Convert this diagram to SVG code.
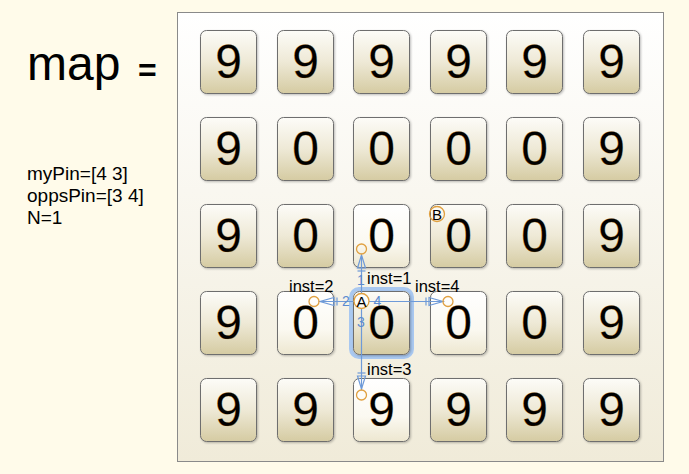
<svg xmlns="http://www.w3.org/2000/svg" width="689" height="474" viewBox="0 0 689 474">
<defs>
<linearGradient id="panelG" x1="0" y1="0" x2="0" y2="1">
<stop offset="0" stop-color="#FFFFFF"/><stop offset="1" stop-color="#F0EBD9"/>
</linearGradient>
<linearGradient id="tileG" x1="0" y1="0" x2="0" y2="1">
<stop offset="0" stop-color="#FDFCF8"/><stop offset="0.5" stop-color="#EEE9D6"/><stop offset="1" stop-color="#D5CBA2"/>
</linearGradient>
<linearGradient id="tileW" x1="0" y1="0" x2="0" y2="1">
<stop offset="0" stop-color="#FFFFFF"/><stop offset="0.6" stop-color="#FBF9F1"/><stop offset="1" stop-color="#EDE7D0"/>
</linearGradient>
<filter id="sh" x="-10%" y="-10%" width="130%" height="130%">
<feDropShadow dx="1" dy="1" stdDeviation="1" flood-color="#000" flood-opacity="0.25"/>
</filter>
</defs>
<style>
.t{fill:url(#tileG);stroke:#6E6E6E;stroke-width:1;filter:url(#sh)}
.w{fill:url(#tileW)}
.d{font-family:"Liberation Sans",Arial,sans-serif;font-size:48px;fill:#000;text-anchor:middle;stroke:#B36A00;stroke-width:0.5;stroke-opacity:0.5}
.lbl{font-family:"Liberation Sans",Arial,sans-serif;font-size:19px;fill:#000}
.il{font-family:"Liberation Sans",Arial,sans-serif;font-size:16.5px;fill:#000}
.num{font-family:"Liberation Sans",Arial,sans-serif;font-size:14px;fill:#5B8BD0;text-anchor:middle}
.ln{stroke:#6E9AD8;stroke-width:1.2;fill:none}
.ah{stroke:#6E9AD8;stroke-width:1.2;fill:none}
.pin{fill:none;stroke:#E0A040;stroke-width:1.3}
</style>
<rect x="0" y="0" width="689" height="474" fill="#FFFBEA"/>
<g id="labels">
<text x="27" y="80" font-family="Liberation Sans,Arial,sans-serif" font-size="48" fill="#000">map</text>
<text x="138" y="81" font-family="Liberation Sans,Arial,sans-serif" font-size="32" font-weight="bold" fill="#000">=</text>
<text x="27" y="179.5" class="lbl">myPin=[4 3]</text>
<text x="27" y="201.5" class="lbl">oppsPin=[3 4]</text>
<text x="27" y="223.5" class="lbl">N=1</text>
</g>
<g id="panel">
<rect x="177.5" y="12.5" width="486" height="449" fill="url(#panelG)" stroke="#8A8A8A" stroke-width="1"/>
</g>
<g id="tiles">
<g id="r1c1"><rect class="t" x="200.5" y="30.5" width="56" height="63" rx="6"/><text class="d" x="228.5" y="78">9</text></g>
<g id="r1c2"><rect class="t" x="277.5" y="30.5" width="56" height="63" rx="6"/><text class="d" x="305.5" y="78">9</text></g>
<g id="r1c3"><rect class="t" x="353.5" y="30.5" width="56" height="63" rx="6"/><text class="d" x="381.5" y="78">9</text></g>
<g id="r1c4"><rect class="t" x="430.5" y="30.5" width="56" height="63" rx="6"/><text class="d" x="458.5" y="78">9</text></g>
<g id="r1c5"><rect class="t" x="506.5" y="30.5" width="56" height="63" rx="6"/><text class="d" x="534.5" y="78">9</text></g>
<g id="r1c6"><rect class="t" x="583.5" y="30.5" width="56" height="63" rx="6"/><text class="d" x="611.5" y="78">9</text></g>

<g id="r2c1"><rect class="t" x="200.5" y="117.5" width="56" height="63" rx="6"/><text class="d" x="228.5" y="165">9</text></g>
<g id="r2c2"><rect class="t" x="277.5" y="117.5" width="56" height="63" rx="6"/><text class="d" x="305.5" y="165">0</text></g>
<g id="r2c3"><rect class="t" x="353.5" y="117.5" width="56" height="63" rx="6"/><text class="d" x="381.5" y="165">0</text></g>
<g id="r2c4"><rect class="t" x="430.5" y="117.5" width="56" height="63" rx="6"/><text class="d" x="458.5" y="165">0</text></g>
<g id="r2c5"><rect class="t" x="506.5" y="117.5" width="56" height="63" rx="6"/><text class="d" x="534.5" y="165">0</text></g>
<g id="r2c6"><rect class="t" x="583.5" y="117.5" width="56" height="63" rx="6"/><text class="d" x="611.5" y="165">9</text></g>

<g id="r3c1"><rect class="t" x="200.5" y="204.5" width="56" height="63" rx="6"/><text class="d" x="228.5" y="252">9</text></g>
<g id="r3c2"><rect class="t" x="277.5" y="204.5" width="56" height="63" rx="6"/><text class="d" x="305.5" y="252">0</text></g>
<g id="r3c3"><rect class="t w" x="353.5" y="204.5" width="56" height="63" rx="6"/><text class="d" x="381.5" y="252">0</text></g>
<g id="r3c4"><rect class="t" x="430.5" y="204.5" width="56" height="63" rx="6"/><text class="d" x="458.5" y="252">0</text></g>
<g id="r3c5"><rect class="t" x="506.5" y="204.5" width="56" height="63" rx="6"/><text class="d" x="534.5" y="252">0</text></g>
<g id="r3c6"><rect class="t" x="583.5" y="204.5" width="56" height="63" rx="6"/><text class="d" x="611.5" y="252">9</text></g>

<g id="r4c1"><rect class="t" x="200.5" y="291.5" width="56" height="63" rx="6"/><text class="d" x="228.5" y="339">9</text></g>
<g id="r4c2"><rect class="t w" x="277.5" y="291.5" width="56" height="63" rx="6"/><text class="d" x="305.5" y="339">0</text></g>
<g id="r4c3"><rect x="351" y="289" width="61" height="68" rx="8" fill="none" stroke="#A9C8F0" stroke-width="4"/><rect class="t" x="353.5" y="291.5" width="56" height="63" rx="6"/><text class="d" x="381.5" y="339">0</text></g>
<g id="r4c4"><rect class="t w" x="430.5" y="291.5" width="56" height="63" rx="6"/><text class="d" x="458.5" y="339">0</text></g>
<g id="r4c5"><rect class="t" x="506.5" y="291.5" width="56" height="63" rx="6"/><text class="d" x="534.5" y="339">0</text></g>
<g id="r4c6"><rect class="t" x="583.5" y="291.5" width="56" height="63" rx="6"/><text class="d" x="611.5" y="339">9</text></g>

<g id="r5c1"><rect class="t" x="200.5" y="378.5" width="56" height="63" rx="6"/><text class="d" x="228.5" y="426">9</text></g>
<g id="r5c2"><rect class="t" x="277.5" y="378.5" width="56" height="63" rx="6"/><text class="d" x="305.5" y="426">9</text></g>
<g id="r5c3"><rect class="t w" x="353.5" y="378.5" width="56" height="63" rx="6"/><text class="d" x="381.5" y="426">9</text></g>
<g id="r5c4"><rect class="t" x="430.5" y="378.5" width="56" height="63" rx="6"/><text class="d" x="458.5" y="426">9</text></g>
<g id="r5c5"><rect class="t" x="506.5" y="378.5" width="56" height="63" rx="6"/><text class="d" x="534.5" y="426">9</text></g>
<g id="r5c6"><rect class="t" x="583.5" y="378.5" width="56" height="63" rx="6"/><text class="d" x="611.5" y="426">9</text></g>
</g>
<g id="connectors">
<line class="ln" x1="361.5" y1="293" x2="361.5" y2="256"/>
<polygon class="ah" points="357.5,268 365.5,268 361.5,255"/>
<line class="ah" x1="357.5" y1="271" x2="365.5" y2="271"/>
<line class="ln" x1="354" y1="301.5" x2="319" y2="301.5"/>
<polygon class="ah" points="334,297.5 334,305.5 320,301.5"/>
<line class="ah" x1="337" y1="297.5" x2="337" y2="305.5"/>
<line class="ln" x1="369" y1="301.5" x2="443" y2="301.5"/>
<polygon class="ah" points="429,297.5 429,305.5 443,301.5"/>
<line class="ah" x1="426" y1="297.5" x2="426" y2="305.5"/>
<line class="ln" x1="361.5" y1="309" x2="361.5" y2="390"/>
<polygon class="ah" points="357.5,376 365.5,376 361.5,389"/>
<line class="ah" x1="357.5" y1="373" x2="365.5" y2="373"/>
<circle class="pin" cx="361.5" cy="249" r="5"/>
<circle class="pin" cx="314" cy="301.5" r="5"/>
<circle class="pin" cx="448" cy="301.5" r="5"/>
<circle class="pin" cx="361.5" cy="395" r="5"/>
<text class="num" x="361" y="285">1</text>
<text class="num" x="346" y="306">2</text>
<text class="num" x="361" y="327">3</text>
<text class="num" x="377.5" y="306">4</text>
<text class="il" x="367" y="284">inst=1</text>
<text class="il" x="289" y="292">inst=2</text>
<text class="il" x="367" y="375">inst=3</text>
<text class="il" x="415" y="292">inst=4</text>
</g>
<g id="A">
<circle cx="361.5" cy="301" r="7.5" fill="#FFFFFF" fill-opacity="0.6" stroke="#E0A040" stroke-width="1.3"/>
<text x="361.5" y="306.5" font-family="Liberation Sans,Arial,sans-serif" font-size="15" text-anchor="middle" fill="#000">A</text>
</g>
<g id="B">
<circle cx="437" cy="214" r="7.5" fill="none" stroke="#E0A040" stroke-width="1.3"/>
<text x="437" y="219.5" font-family="Liberation Sans,Arial,sans-serif" font-size="15" text-anchor="middle" fill="#000">B</text>
</g>
</svg>
